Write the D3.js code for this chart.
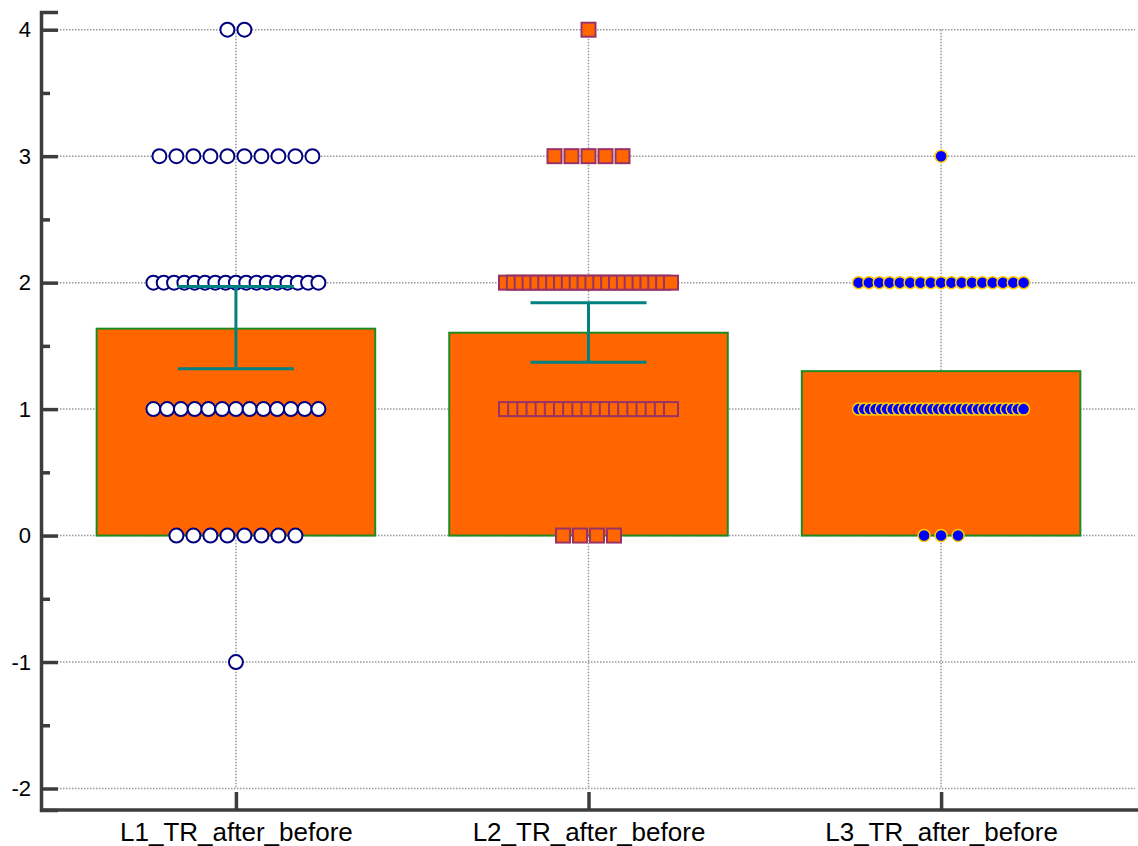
<!DOCTYPE html>
<html>
<head>
<meta charset="utf-8">
<script src="https://cdn.jsdelivr.net/npm/d3@7"></script>
<style>
  body { margin: 0; background: #fff; }
  text { font-family: "Liberation Sans", Arial, sans-serif; fill: #000; }
</style>
</head>
<body>
<div id="chart"></div>
<script>
const categories = ["L1_TR_after_before", "L2_TR_after_before", "L3_TR_after_before"];
const barMeans = [1.636, 1.604, 1.30];
const errLow = [1.32, 1.37, null];
const errHigh = [1.97, 1.84, null];

// how many subjects landed on each score, per group
const levels = [-1, 0, 1, 2, 3, 4];
const g1Counts = [1, 8, 13, 17, 10, 2];
const g2Counts = [0, 4, 19, 22, 5, 1];
const g3Counts = [0, 3, 30, 17, 1, 0];

const yTicks = [-2, -1, 0, 1, 2, 3, 4];
const yMinorTicks = [-1.5, -0.5, 0.5, 1.5, 2.5, 3.5];

const width = 1138;
const height = 846;
const axisColor = "#3c3c3c";

const svg = d3
  .select("#chart")
  .append("svg")
  .attr("width", width)
  .attr("height", height);

const x = d3.scalePoint().domain(categories).range([42, 1135]).padding(0.55);
const y = d3.scaleLinear().domain([-2.17, 4.14]).range([810, 12]);
const step = x.step();

// gridlines
svg
  .append("g")
  .selectAll("line")
  .data(yTicks)
  .join("line")
  .attr("x1", 42)
  .attr("x2", 1135)
  .attr("y1", (d) => y(d))
  .attr("y2", (d) => y(d))
  .attr("stroke", "#999")
  .attr("stroke-width", 1.5)
  .attr("stroke-dasharray", "1.5,1.5");

svg
  .append("g")
  .selectAll("line")
  .data(categories)
  .join("line")
  .attr("x1", (d) => x(d))
  .attr("x2", (d) => x(d))
  .attr("y1", y(4))
  .attr("y2", y(-2))
  .attr("stroke", "#999")
  .attr("stroke-width", 1.5)
  .attr("stroke-dasharray", "1.5,1.5");

// bars
const barW = step * 0.79;
svg
  .append("g")
  .selectAll("rect")
  .data(categories)
  .join("rect")
  .attr("x", (d) => x(d) - barW / 2)
  .attr("width", barW)
  .attr("y", (d, i) => y(barMeans[i]))
  .attr("height", (d, i) => y(0) - y(barMeans[i]))
  .attr("fill", "#ff6600")
  .attr("stroke", "#1f8a1f")
  .attr("stroke-width", 2);

// points, spread sideways on each level
function spread(cat, counts, gap) {
  const pts = [];
  counts.forEach((n, li) => {
    if (!n) return;
    const s = n > 1 ? Math.min(gap, 165 / (n - 1)) : 0;
    for (let i = 0; i < n; i++) {
      pts.push({ cx: x(cat) + (i - (n - 1) / 2) * s, cy: y(levels[li]) });
    }
  });
  return pts;
}

svg
  .append("g")
  .selectAll("circle")
  .data(spread(categories[0], g1Counts, 17))
  .join("circle")
  .attr("cx", (d) => d.cx)
  .attr("cy", (d) => d.cy)
  .attr("r", 7)
  .attr("fill", "#fff")
  .attr("stroke", "#000080")
  .attr("stroke-width", 2);

const sq = 14;
svg
  .append("g")
  .selectAll("rect")
  .data(spread(categories[1], g2Counts, 17))
  .join("rect")
  .attr("x", (d) => d.cx - sq / 2)
  .attr("y", (d) => d.cy - sq / 2)
  .attr("width", sq)
  .attr("height", sq)
  .attr("fill", "#ff6600")
  .attr("stroke", "#993366")
  .attr("stroke-width", 2);

svg
  .append("g")
  .selectAll("circle")
  .data(spread(categories[2], g3Counts, 17))
  .join("circle")
  .attr("cx", (d) => d.cx)
  .attr("cy", (d) => d.cy)
  .attr("r", 6)
  .attr("fill", "#0000ff")
  .attr("stroke", "#ffcc00")
  .attr("stroke-width", 1.5);

// error bars (upper/lower)
const cap = 58;
const eb = svg.append("g").attr("stroke", "#008080").attr("stroke-width", 3);
categories.forEach((c, i) => {
  if (errLow[i] == null) return;
  eb.append("line")
    .attr("x1", x(c)).attr("x2", x(c))
    .attr("y1", y(errLow[i])).attr("y2", y(errHigh[i]));
  [errLow[i], errHigh[i]].forEach((v) => {
    eb.append("line")
      .attr("x1", x(c) - cap).attr("x2", x(c) + cap)
      .attr("y1", y(v)).attr("y2", y(v));
  });
});

// axes
const yAxis = svg
  .append("g")
  .attr("transform", "translate(41,0)")
  .call(d3.axisLeft(y).tickValues(yTicks).tickFormat((d) => String(d)).tickSize(-17).tickPadding(10));
yAxis.selectAll("text").style("font-size", "22px");

svg
  .append("g")
  .attr("transform", "translate(41,0)")
  .call(d3.axisLeft(y).tickValues(yMinorTicks).tickFormat("").tickSize(-9))
  .select(".domain")
  .remove();

const xAxis = svg
  .append("g")
  .attr("transform", "translate(0,810)")
  .call(d3.axisBottom(x).tickSize(-18).tickPadding(13).tickSizeOuter(0));
xAxis.selectAll("text").style("font-size", "26px");
xAxis.select(".domain").attr("d", "M40,0H1138");

svg.selectAll(".domain").attr("stroke", axisColor).attr("stroke-width", 3.5);
svg.selectAll(".tick line").attr("stroke", axisColor).attr("stroke-width", 3.5);
svg.selectAll(".tick text").attr("fill", "#000");
</script>
</body>
</html>
